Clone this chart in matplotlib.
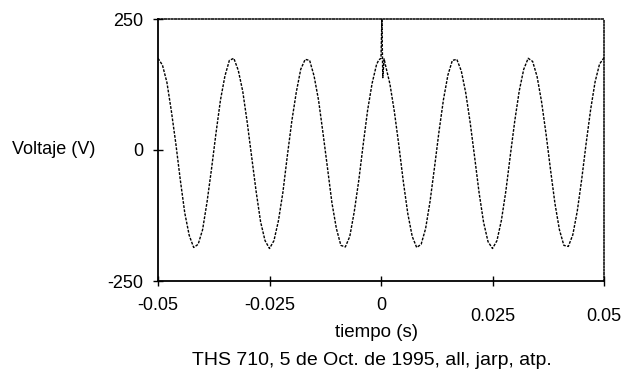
import numpy as np
import matplotlib
matplotlib.use("Agg")
import matplotlib.pyplot as plt
import matplotlib.transforms as mtransforms

plt.rcParams['font.family'] = ['Liberation Sans', 'DejaVu Sans']

# Regular samples every 1 ms from -0.05 s to 0.05 s (voltage in V)
t_start = -0.05
t_end = 0.05
voltage = [
    175, 162, 129, 74, 12, -57, -120, -163, -186, -180,
    -152, -99, -36, 32, 95, 141, 171, 175, 152, 112,
    53, -13, -79, -137, -173, -188, -173, -135, -81, -11,
    55, 110, 154, 173, 171, 141, 95, 32, -34, -101,
    -150, -182, -185, -165, -118, -59, 10, 76, 127, 163,
    175, 162, 126, 73, 9, -60, -121, -165, -186, -180,
    -150, -98, -33, 35, 96, 143, 171, 173, 151, 109,
    52, -14, -82, -138, -175, -188, -173, -134, -78, -10,
    56, 113, 154, 175, 169, 140, 92, 31, -37, -102,
    -152, -182, -184, -162, -117, -56, 13, 77, 130, 164,
    176,
]
# Extra points around the switching spike near t = 0
spike_t = [-0.0005, 0.0002, 0.0004, 0.0007]
spike_v = [172, 250, 138, 174]

x_ticks = [-0.05, -0.025, 0, 0.025, 0.05]
x_labels = ['-0.05', '-0.025', '0', '0.025', '0.05']
y_ticks = [-250, 0, 250]
y_labels = ['-250', '0', '250']

t_reg = np.linspace(t_start, t_end, len(voltage))
t_all = np.concatenate([t_reg, spike_t])
v_all = np.concatenate([voltage, spike_v])
order = np.argsort(t_all, kind='stable')
t_all = t_all[order]
v_all = v_all[order]

W, H = 631, 378
fig = plt.figure(figsize=(W / 100, H / 100), dpi=100)
ax = fig.add_axes([158 / W, 1 - 281 / H, 446 / W, 262 / H])

ax.plot(t_all, v_all, color='black', lw=1.0, linestyle=(0, (2, 1)))

ax.set_xlim(t_start, t_end)
ax.set_ylim(-250, 250)
ax.set_xticks(x_ticks)
ax.set_xticklabels(x_labels)
ax.set_yticks(y_ticks)
ax.set_yticklabels(y_labels)
ax.tick_params(direction='inout', length=7, width=1.0, labelsize=13, color='black')
ax.tick_params(axis='x', pad=8)
ax.tick_params(axis='y', pad=7)

for side in ['left', 'bottom']:
    ax.spines[side].set_linewidth(1.3)
    ax.spines[side].set_color('black')
for side in ['top', 'right']:
    ax.spines[side].set_linewidth(1.1)
    ax.spines[side].set_linestyle((0, (1, 1.2)))
    ax.spines[side].set_color('black')

# the last two x labels sit lower in the original
offset = mtransforms.ScaledTranslation(0, -11 / 100, fig.dpi_scale_trans)
for lab in ax.get_xticklabels()[3:]:
    lab.set_transform(lab.get_transform() + offset)

ax.set_xlabel('tiempo (s)', fontsize=13.5)
ax.xaxis.set_label_coords(0.49, -0.165)
ax.set_ylabel('Voltaje (V)', fontsize=13, rotation=0, ha='left', va='center')
ax.yaxis.set_label_coords((12 - 158) / 446, 0.5)

fig.text(372 / W, 1 - 352 / H, 'THS 710, 5 de Oct. de 1995, all, jarp, atp.',
         fontsize=14, ha='center', va='top')

fig.savefig('out.png', dpi=100)
